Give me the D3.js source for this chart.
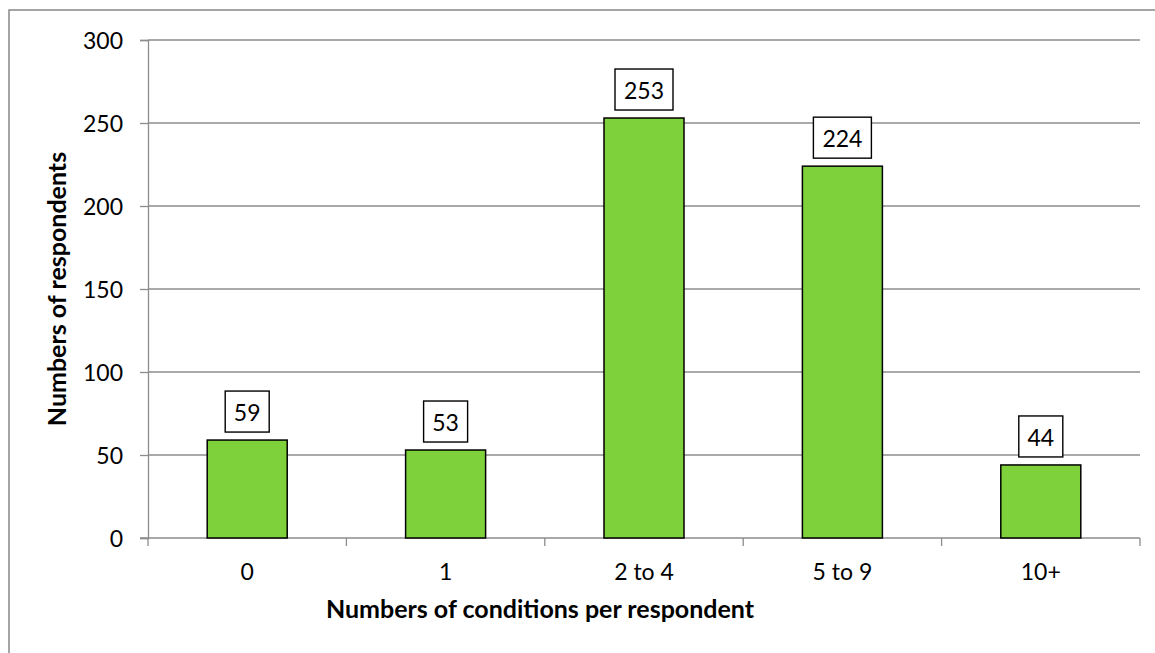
<!DOCTYPE html>
<html>
<head>
<meta charset="utf-8">
<script src="https://cdn.jsdelivr.net/npm/d3@7"></script>
<style>
  html, body { margin: 0; padding: 0; background: #fff; }
  svg { display: block; font-family: Lato, "Open Sans", sans-serif; }
</style>
</head>
<body>
<svg id="chart" width="1155" height="653"></svg>
<script>
const categories = ["0", "1", "2 to 4", "5 to 9", "10+"];
const respondents = [59, 53, 253, 224, 44];
const yTicks = [0, 50, 100, 150, 200, 250, 300];
const xTitle = "Numbers of conditions per respondent";
const yTitle = "Numbers of respondents";

(function () {
const svg = d3.select("#chart");
const pLeft = 148, pRight = 1140, pTop = 40, pBottom = 538;
const FS = 23;

// outer border
svg.append("rect").attr("x", 9).attr("y", 10).attr("width", 1160).attr("height", 660)
  .attr("fill", "none").attr("stroke", "#888").attr("stroke-width", 1.5);

const x = d3.scaleBand().domain(categories).range([pLeft, pRight]).paddingInner(0.6).paddingOuter(0.3);
const y = d3.scaleLinear().domain([0, 300]).range([pBottom, pTop]);

// gridlines
svg.append("g").selectAll("line").data(yTicks.filter(d => d > 0)).join("line")
  .attr("x1", pLeft).attr("x2", pRight)
  .attr("y1", d => y(d)).attr("y2", d => y(d))
  .attr("stroke", "#8c8c8c").attr("stroke-width", 1.3);

// y axis
const yAxis = svg.append("g").attr("transform", `translate(${pLeft},0)`)
  .call(d3.axisLeft(y).tickValues(yTicks).tickSize(8).tickPadding(17));
yAxis.select(".domain").attr("stroke", "#8c8c8c").attr("stroke-width", 1.3);
yAxis.selectAll(".tick line").attr("stroke", "#8c8c8c").attr("stroke-width", 1.3);
yAxis.selectAll(".tick text").attr("font-size", FS).attr("fill", "#000")
  .attr("font-family", "Lato, sans-serif").attr("dy", "0.36em");

// x axis baseline and ticks between categories
const xAxisG = svg.append("g");
xAxisG.append("line").attr("x1", pLeft - 8).attr("x2", pRight).attr("y1", pBottom).attr("y2", pBottom)
  .attr("stroke", "#8c8c8c").attr("stroke-width", 1.3);
const boundaries = categories.map(c => x(c) - x.step() * x.paddingInner() / 2);
boundaries.push(pRight);
boundaries[0] = pLeft;
xAxisG.selectAll("line.tk").data(boundaries).join("line").attr("class", "tk")
  .attr("x1", d => d).attr("x2", d => d).attr("y1", pBottom).attr("y2", pBottom + 8)
  .attr("stroke", "#8c8c8c").attr("stroke-width", 1.3);
xAxisG.selectAll("text").data(categories).join("text")
  .attr("x", d => x(d) + x.bandwidth() / 2)
  .attr("y", 580).attr("text-anchor", "middle").attr("font-size", FS).attr("fill", "#000")
  .text(d => d);

// bars
const bw = 80;
const cx = i => x(categories[i]) + x.bandwidth() / 2;
svg.append("g").selectAll("rect").data(respondents).join("rect")
  .attr("x", (d, i) => cx(i) - bw / 2)
  .attr("width", bw)
  .attr("y", d => y(d))
  .attr("height", d => y(0) - y(d))
  .attr("fill", "#7fd13b").attr("stroke", "#000").attr("stroke-width", 1.5);

// data labels with boxes
svg.append("g").selectAll("g").data(respondents).join("g").each(function (d, i) {
  const g = d3.select(this);
  const w = String(d).length === 3 ? 58 : 44;
  const bx = cx(i) - w / 2;
  const by = y(d) - 49;
  g.append("rect").attr("x", bx).attr("y", by).attr("width", w).attr("height", 41)
    .attr("fill", "#fff").attr("stroke", "#000").attr("stroke-width", 1.4);
  g.append("text").attr("x", cx(i)).attr("y", by + 30).attr("text-anchor", "middle")
    .attr("font-size", FS).attr("fill", "#000").text(d);
});

// titles
svg.append("text").attr("x", 540).attr("y", 618).attr("text-anchor", "middle")
  .attr("font-size", 25).attr("font-weight", "bold").attr("fill", "#000").text(xTitle);
svg.append("text").attr("transform", "translate(66,289) rotate(-90)").attr("text-anchor", "middle")
  .attr("font-size", 25).attr("font-weight", "bold").attr("fill", "#000").text(yTitle);
})();
</script>
</body>
</html>
